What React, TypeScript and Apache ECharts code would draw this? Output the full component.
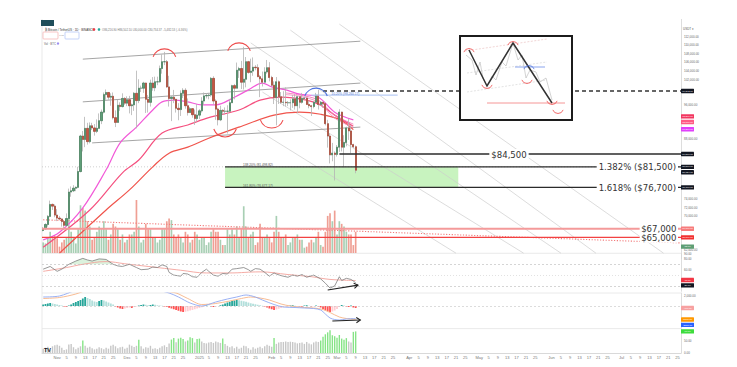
import React, { useEffect, useRef } from "react";
import * as echarts from "echarts";

// ---------------- data ----------------
const START_UTC = [2024, 9, 26]; // 26 Oct 2024
const AXIS_DAYS = 274;
const MONTHS = ["Jan", "Feb", "Mar", "Apr", "May", "Jun", "Jul", "Aug", "Sep", "Oct", "Nov", "Dec"];
const LABEL_DAYS = [1, 5, 9, 13, 17, 21, 25];

// BTC/USDT daily  [open, high, low, close]
const OHLC: number[][] = [
  [66600, 67400, 66400, 67000], [67000, 68300, 66800, 68000], [68000, 70200, 67500, 69900], [69900, 73600, 69700, 72700],
  [72700, 72900, 71400, 72300], [72300, 72700, 69700, 70200], [70200, 71600, 68800, 69500], [69500, 70000, 69000, 69300],
  [69300, 69400, 67500, 68700], [68700, 68900, 66800, 67800], [67800, 70600, 67500, 69400], [69400, 76400, 69300, 75600],
  [75600, 76900, 74500, 75900], [75900, 77200, 75600, 76500], [76500, 76900, 75800, 76700], [76700, 81500, 76500, 80400],
  [80400, 89000, 80200, 88700], [88700, 89900, 85100, 87900], [87900, 93200, 86100, 90500], [90500, 91800, 86700, 87400],
  [87400, 91900, 87000, 91100], [91100, 91800, 90100, 90600], [90600, 91500, 88800, 89800], [89800, 92600, 89400, 90500],
  [90500, 94000, 90400, 92300], [92300, 94900, 91500, 94300], [94300, 98900, 94000, 98400], [98400, 99600, 97200, 98900],
  [98900, 98900, 97200, 97800], [97800, 98700, 95800, 98000], [98000, 98900, 92600, 93000], [93000, 94700, 90800, 91900],
  [91900, 97200, 91800, 95900], [95900, 96600, 94600, 95600], [95600, 98700, 95400, 97500], [97500, 97800, 96000, 96400],
  [96400, 98000, 95700, 97200], [97200, 98100, 94000, 95800], [95800, 96300, 93600, 96000], [96000, 99000, 94600, 98700],
  [98700, 104000, 90500, 97000], [97000, 102000, 96400, 99900], [99900, 100500, 99000, 99900], [99900, 101400, 98800, 101100],
  [101100, 101200, 94100, 97300], [97300, 98300, 94200, 96600], [96600, 101900, 95600, 101100], [101100, 102500, 99300, 100000],
  [100000, 102600, 99200, 101400], [101400, 102600, 100600, 101400], [101400, 105200, 101200, 104500], [104500, 107800, 103300, 106100],
  [106100, 108400, 105300, 106100], [106100, 106500, 100000, 100200], [100200, 102800, 95600, 97500], [97500, 98000, 92200, 97800],
  [97800, 99500, 96400, 97300], [97300, 97400, 94200, 95200], [95200, 96400, 92400, 94900], [94900, 99400, 93400, 98700],
  [98700, 99900, 97600, 99400], [99400, 99900, 95100, 95800], [95800, 97500, 93500, 94200], [94200, 95500, 94100, 95100],
  [95100, 95200, 93000, 93700], [93700, 94900, 91300, 92800], [92800, 96200, 92000, 93600], [93600, 95000, 92700, 94600],
  [94600, 97800, 94200, 96900], [96900, 98900, 96000, 98100], [98100, 98700, 97500, 98200], [98200, 98800, 97300, 98300],
  [98300, 102500, 97900, 102200], [102200, 102700, 96100, 96900], [96900, 97300, 92500, 95000], [95000, 95300, 91200, 92500],
  [92500, 95800, 92200, 94700], [94700, 95000, 93800, 94500], [94500, 95400, 93700, 94500], [94500, 95900, 89300, 94500],
  [94500, 97400, 94300, 96500], [96500, 100700, 96500, 100500], [100500, 100900, 97300, 99900], [99900, 105900, 99900, 104100],
  [104100, 104900, 102300, 104500], [104500, 106300, 99700, 101300], [101300, 109600, 99600, 102000], [102000, 107200, 100100, 106100],
  [106100, 106300, 103300, 103600], [103600, 106800, 101300, 103900], [103900, 107100, 102800, 104800], [104800, 105300, 104100, 104700],
  [104700, 105500, 102500, 102600], [102600, 103000, 97800, 102100], [102100, 103800, 100300, 101300], [101300, 104800, 101300, 103700],
  [103700, 106500, 103300, 104700], [104700, 106000, 101500, 102400], [102400, 102800, 100300, 100600], [100600, 101500, 96200, 97700],
  [97700, 102500, 91200, 101400], [101400, 101700, 96200, 97900], [97900, 99000, 96200, 96600], [96600, 99200, 95700, 96600],
  [96600, 100100, 95600, 96500], [96500, 96900, 95700, 96500], [96500, 97300, 94700, 96500], [96500, 98300, 95300, 97400],
  [97400, 98500, 94900, 95800], [95800, 98100, 94100, 97900], [97900, 98000, 95200, 96600], [96600, 98800, 96300, 97500],
  [97500, 97900, 97100, 97600], [97600, 97700, 96000, 96100], [96100, 97000, 95200, 95800], [95800, 96000, 93400, 95600],
  [95600, 96900, 95200, 96600], [96600, 98800, 96500, 98300], [98300, 99500, 94900, 96100], [96100, 96900, 95800, 96600],
  [96600, 96700, 95300, 96300], [96300, 96500, 91200, 91600], [91600, 92500, 86000, 88700], [88700, 89300, 82300, 84300],
  [84300, 87100, 82800, 84700], [84700, 85100, 78300, 84400], [84400, 86600, 83900, 86100], [86100, 95000, 85000, 94300],
  [94300, 94400, 85100, 86100], [86100, 88900, 81400, 87200], [87200, 90900, 86300, 90600], [90600, 92800, 87800, 89900],
  [89900, 91300, 84700, 86700], [86700, 86900, 85900, 86200], [86200, 86500, 80000, 80700],
];

const VOLUME = [
  20, 18, 30, 40, 28, 32, 28, 12, 20, 25,
  30, 70, 40, 30, 18, 45, 90, 85, 80, 60, 50, 25,
  30, 40, 50, 45, 60, 45, 25, 35, 55, 50, 45, 25, 35, 20,
  25, 35, 35, 40, 100, 50, 20, 25, 55, 45, 45, 30, 30, 20,
  25, 45, 45, 60, 65, 62, 35, 30, 35, 30, 20, 40, 35, 20, 25, 40, 35,
  25, 30, 30, 15, 20, 40, 45, 40, 40, 25, 15, 15, 45, 35, 45,
  35, 50, 30, 45, 88, 50, 30, 35, 40, 15, 20, 55, 30, 30, 35, 30,
  20, 40, 70, 40, 30, 30, 35, 15, 20, 30, 30, 35, 25, 25,
  10, 12, 20, 25, 20, 30, 40, 15, 12, 40, 70, 75, 60, 80,
  35, 60, 55, 50, 40, 35, 35, 15, 40,
];

// moving averages: [day index, price]
const MA_FAST = [[0, 64400], [7, 66200], [17, 71900], [27, 80800], [33, 87100], [40, 90800], [47, 94800], [51, 96700], [56, 97100], [62, 96700], [68, 96000], [74, 96000], [82, 97800], [88, 99500], [94, 101100], [98, 100200], [104, 99500], [110, 98500], [118, 97800], [125, 94300], [133, 92500]];
const MA_MID = [[0, 62700], [20, 71400], [34, 80100], [41, 83100], [51, 89400], [62, 91300], [71, 93000], [84, 94800], [93, 97100], [102, 97800], [113, 97100], [119, 95900], [125, 93600], [133, 91000]];
const MA_SLOW = [[7, 61300], [27, 71400], [37, 76100], [47, 81500], [54, 84700], [62, 86100], [71, 88200], [84, 90800], [99, 93600], [110, 94300], [119, 93800], [127, 92600], [133, 90200]];
const MA_RIB1 = [[104, 98800], [110, 98300], [118, 97100], [125, 93600], [133, 91500]];
const MA_RIB2 = [[104, 98400], [110, 98000], [118, 96600], [125, 92900], [133, 90700]];

const RSI = [[0, 61], [3, 66], [6, 57], [8, 61], [11, 70], [14, 76], [17, 81], [19, 78], [21, 76], [24, 80], [27, 79], [30, 70], [32, 67], [34, 66], [37, 70], [40, 64], [42, 60], [45, 61], [47, 65], [49, 64], [51, 69], [53, 66], [54, 55], [56, 50], [59, 48], [60, 53], [62, 52], [64, 47], [66, 46], [68, 55], [70, 61], [71, 57], [73, 50], [75, 48], [77, 53], [79, 52], [81, 61], [83, 62], [86, 64], [88, 60], [89, 57], [91, 62], [93, 61], [95, 55], [97, 48], [99, 54], [100, 52], [102, 49], [105, 46], [107, 50], [109, 48], [111, 51], [113, 46], [116, 50], [119, 43], [121, 35], [123, 26], [125, 30], [127, 47], [128, 40], [130, 44], [132, 42], [134, 36]];
const RSI_MA = [[0, 57], [10, 64], [17, 70], [27, 75], [35, 71], [45, 66], [59, 59], [70, 54], [80, 54], [93, 56], [105, 51], [115, 47], [123, 42], [134, 40]];

const MACD_HIST = [
  300, 400, 500, 600, 500, 400, 300, 200, 100,
  -100, -200, 100, 300,
  600, 800, 1000, 1200,
  1500, 1800, 1600,
  1400, 1100, 900, 800,
  1000, 1200, 1100,
  900, 700, 500, 300,
  -100, -300, -500, -600, -500, -400, -300,
  -400, -200, -100, 100, 200,
  300, 250, 150, 200, 300, 250, 150, 100, 50, -100,
  -200, -350, -500, -650, -800, -950, -1100, -1200, -1150, -1050, -900, -800, -650, -500,
  -400, -250, -100, 100, 50, -100,
  -200, -150, 0, 150,
  300, 500, 700, 850, 1000, 1100, 1200, 1150, 1050, 950, 850, 700,
  550, 450, 350, 250, 150, 50, -100,
  -300, -500, -650, -800, -700, -550, -400, -250,
  -150, -100, 100, 150, 50, -50, -100, -150, 100, 150, 50, -100, -50, 100, -100,
  -300, -600, -850, -1050, -1200, -1100,
  -900, -600, -200, 200, 100, -100, -200, 100, -300, -400,
];
const MACD_LINE = [[0, 1800], [7, 2000], [14, 3200], [22, 4600], [35, 4200], [45, 3600], [54, 2600], [58, 1800], [63, 600], [68, 0], [74, 800], [79, 1400], [83, 1800], [87, 2200], [91, 1800], [94, 1200], [99, 300], [103, -200], [108, -300], [112, -400], [116, -500], [119, -800], [121, -1600], [123, -2400], [125, -2700], [127, -2800], [130, -2600], [134, -2500]];
const MACD_SIGNAL = [[0, 1500], [7, 1700], [14, 2400], [22, 3700], [35, 4300], [45, 3800], [52, 3000], [57, 2600], [62, 1500], [68, 300], [74, 500], [80, 1000], [85, 1500], [89, 1800], [93, 1600], [97, 1200], [102, 400], [106, 0], [112, -300], [116, -400], [120, -700], [123, -1300], [127, -2200], [130, -2500], [134, -2700]];

const OSC = [
  18, 22, 26, 14, 28, 32, 34, 30, 22, 12, 15, 35, 38, 24, 16, 22,
  28, 52, 30, 22, 26, 20, 15, 18, 24, 20, 16, 22, 18, 30, 34,
  28, 20, 24, 26, 18, 22, 35, 30, 25, 30, 55, 28, 18, 24, 22,
  30, 18, 20, 16, 22, 28, 32, 25, 40, 56, 62, 45, 60, 64, 58,
  48, 52, 66, 62, 44, 58, 60, 48, 42, 40, 44, 46, 42, 48, 45,
  42, 60, 38, 30, 24, 28, 20, 26, 18, 22, 30, 28, 20, 14, 24,
  18, 22, 26, 20, 28, 34, 30, 26, 62, 38, 44, 46, 46, 48, 46,
  47, 46, 44, 40, 42, 44, 38, 46, 40, 36, 44, 48, 46, 52, 68,
  78, 86, 95, 74, 70, 64, 75, 60, 55, 62, 48, 44, 88, 90,
];

// drawn annotations, in data coordinates [day index, price]
const CHANNEL_LINES = [
  [[17, 106700], [136, 110900]],
  [[17, 96700], [136, 101100]],
  [[21, 87100], [136, 90800]],
];
const DIAGONAL_LINES = [
  [[92, 90100], [177, 61300]],
  [[94, 99000], [206, 61300]],
  [[89, 110500], [222, 61300]],
  [[106, 113500], [237, 61300]],
  [[127, 114900], [266, 61300]],
];
const RED_DOTTED = [[0, 69100], [273, 63700]];
const FIB_START = 78;
const FIB_BOX_END = 178;
const FIB_1382 = 81500;
const FIB_1618 = 76700;
const LEVEL_84500 = 84500;
const LEVEL_84500_START = 127;
const DASHED_LEVEL = 99242;
const DASHED_START = 120;
const LEVEL_67000 = 67000;
const LEVEL_65000 = 65000;
const BLUE_FIB = { from: 115, to: 152, price: 98260, text: "10.20% (98,260.17)" };
const TOP_ARCS = [[52, 106300], [84, 107700]];
const BOTTOM_ARCS = [[78, 91300], [98, 93400]];
const BLUE_ARC = [117, 97100];
const RSI_ARROW = [[122, 22.5], [135, 31.5]];
const MACD_ARROW = [[124, -3000], [136, -2800]];

// right-axis value tags: [pane, value, colour]
const TAGS: [number, number, string][] = [
  [0, 99242, "#131722"], [0, 93300, "#f23660"], [0, 92000, "#ff5a84"], [0, 90300, "#e040fb"],
  [0, 84500, "#131722"], [0, 81500, "#131722"], [0, 80734, "#131722"], [0, 76700, "#131722"],
  [0, 67000, "#f77c7c"], [0, 65000, "#f23030"],
  [1, 12, "#5e9e74"],
  [2, 41, "#f23645"], [2, 36, "#131722"],
  [3, -400, "#f7a1a1"], [3, -2700, "#ff9800"], [3, -2500, "#2962ff"],
  [4, 90, "#3ddc3d"],
];

// ---------------- layout / styles ----------------
const GL = 42;
const GW = 639;
const GR = GL + GW;
const GRIDS = [
  { left: GL, width: GW, top: 19.4, height: 239.3 },
  { left: GL, width: GW, top: 200, height: 53 },
  { left: GL, width: GW, top: 253.5, height: 37.8 },
  { left: GL, width: GW, top: 293, height: 35 },
  { left: GL, width: GW, top: 329, height: 24 },
];
const PANE_BOTTOM = 353;
const NARROW = "'Liberation Sans Narrow', 'DejaVu Sans Condensed', 'Liberation Sans', Arial, sans-serif";
const SANS = "'Liberation Sans', Arial, sans-serif";

const DATES: string[] = [];
for (let i = 0; i < AXIS_DAYS; i++) {
  const d = new Date(Date.UTC(START_UTC[0], START_UTC[1], START_UTC[2] + i));
  DATES.push(d.toISOString().slice(0, 10));
}

const fmt2 = (v: number) => v.toLocaleString("en-US", { minimumFractionDigits: 2, maximumFractionDigits: 2 });
const PRICE_PER_PX = 56000 / 239.3;
// price-axis tick labels that would sit under a value tag are left blank (the tag covers them)
const mainTagValues = TAGS.filter((t) => t[0] === 0).map((t) => t[1]);
const underTag = (v: number) => mainTagValues.some((t) => Math.abs(t - v) < 7.2 * PRICE_PER_PX);

function buildOption() {
  const xAxis = GRIDS.map((_, i) => ({
    type: "category",
    gridIndex: i,
    data: DATES,
    boundaryGap: true,
    axisLine: { show: i === 4, lineStyle: { color: "#cfcfcf", width: 0.8 } },
    axisTick: { show: false },
    splitLine: { show: false },
    axisLabel:
      i === 4
        ? {
            show: true,
            fontSize: 4,
            color: "#777",
            margin: 2,
            fontFamily: SANS,
            interval: (_idx: number, v: string) => LABEL_DAYS.includes(+v.slice(8, 10)),
            formatter: (v: string) => {
              const day = +v.slice(8, 10);
              const m = +v.slice(5, 7) - 1;
              if (day === 1) return m === 0 ? v.slice(0, 4) : MONTHS[m];
              return String(day);
            },
          }
        : { show: false },
  }));
  const lbl = { fontSize: 3, color: "#666", margin: 3, fontFamily: SANS };
  const axLine = { show: true, lineStyle: { color: "#d4d4d4", width: 0.8 } };
  const yAxis = [
    {
      type: "value", gridIndex: 0, position: "right", min: 60000, max: 116000, interval: 2000,
      axisLine: axLine, axisTick: { show: false }, splitLine: { show: false },
      axisLabel: { ...lbl, formatter: (v: number) => (v < 62000 || v > 112000 || underTag(v) ? "" : fmt2(v)) },
    },
    { type: "value", gridIndex: 1, min: 0, max: 100, show: false },
    {
      type: "value", gridIndex: 2, position: "right", min: 20, max: 90, interval: 20,
      axisLine: axLine, axisTick: { show: false }, splitLine: { show: false },
      axisLabel: { ...lbl, formatter: (v: number) => (v === 20 || v === 40 ? "" : v.toFixed(2)) },
    },
    {
      type: "value", gridIndex: 3, position: "right", min: -4400, max: 2600,
      axisLine: axLine, axisTick: { show: false }, splitLine: { show: false },
      axisLabel: { ...lbl, formatter: (v: number) => (v !== 0 && v % 2000 === 0 && v > -2000 ? fmt2(v) : "") },
    },
    {
      type: "value", gridIndex: 4, position: "right", min: 0, max: 100, interval: 50,
      axisLine: axLine, axisTick: { show: false }, splitLine: { show: false },
      axisLabel: { ...lbl, formatter: (v: number) => (v === 100 ? "" : v.toFixed(2)) },
    },
  ];

  const maLine = (data: number[][], color: string, width = 1.2) => ({
    type: "line", xAxisIndex: 0, yAxisIndex: 0, data, smooth: 0.35, symbol: "none",
    lineStyle: { color, width }, silent: true, z: 3,
  });

  const histColors = MACD_HIST.map((v, i) => {
    const p = i > 0 ? MACD_HIST[i - 1] : 0;
    if (v >= 0) return v >= p ? "#26a69a" : "#b2dfdb";
    return v <= p ? "#ff5252" : "#ffcdd2";
  });

  const series: any[] = [
    {
      type: "candlestick", xAxisIndex: 0, yAxisIndex: 0, barWidth: "74%", z: 4,
      data: OHLC.map(([o, h, l, c]) => [o, c, l, h]),
      itemStyle: { color: "#b4b4b4", color0: "#b4b4b4", borderColor: "#b4b4b4", borderColor0: "#b4b4b4", borderWidth: 0.8 },
    },
    {
      type: "candlestick", xAxisIndex: 0, yAxisIndex: 0, barWidth: "74%", z: 5,
      data: OHLC.map(([o, , , c]) => [o, c, Math.min(o, c), Math.max(o, c)]),
      itemStyle: { color: "#5f9f78", color0: "#c85640", borderColor: "#3a7a54", borderColor0: "#a33c2a", borderWidth: 0.6 },
    },
    maLine(MA_SLOW, "#f0544c"),
    maLine(MA_MID, "#f5507f"),
    maLine(MA_RIB2, "#f28fc0", 0.9),
    maLine(MA_RIB1, "#f47ab6", 0.9),
    maLine(MA_FAST, "#f25ad8"),
    {
      type: "bar", xAxisIndex: 1, yAxisIndex: 1, barWidth: "72%", silent: true, z: 1,
      data: VOLUME.map((v, i) => ({ value: v, itemStyle: { color: OHLC[i][3] >= OHLC[i][0] ? "#a8cfb4" : "#ef9f94" } })),
    },
    {
      type: "line", xAxisIndex: 2, yAxisIndex: 2, symbol: "none", silent: true,
      data: RSI.map(([i, v]) => [i, Math.max(v, 70)]),
      lineStyle: { opacity: 0 }, areaStyle: { origin: 70, color: "rgba(70,190,80,0.28)" },
    },
    {
      type: "line", xAxisIndex: 2, yAxisIndex: 2, symbol: "none", silent: true, data: RSI_MA,
      smooth: 0.4, lineStyle: { color: "#f3a19b", width: 0.9 },
    },
    {
      type: "line", xAxisIndex: 2, yAxisIndex: 2, symbol: "none", silent: true, data: RSI,
      lineStyle: { color: "#7d7d7d", width: 0.8 },
      markLine: {
        silent: true, symbol: "none", label: { show: false },
        data: [
          { yAxis: 70, lineStyle: { type: [2, 2], color: "#b9b9b9", width: 0.6 } },
          { yAxis: 50, lineStyle: { type: [1, 2], color: "#cfcfcf", width: 0.6 } },
          { yAxis: 30, lineStyle: { type: [2, 2], color: "#b9b9b9", width: 0.6 } },
        ],
      },
    },
    {
      type: "bar", xAxisIndex: 3, yAxisIndex: 3, barWidth: "78%", silent: true,
      data: MACD_HIST.map((v, i) => ({ value: v, itemStyle: { color: histColors[i] } })),
      markLine: {
        silent: true, symbol: "none", label: { show: false },
        data: [{ yAxis: 0, lineStyle: { type: [2, 2], color: "#c4c4c4", width: 0.6 } }],
      },
    },
    {
      type: "line", xAxisIndex: 3, yAxisIndex: 3, symbol: "none", silent: true, data: MACD_SIGNAL,
      smooth: 0.3, lineStyle: { color: "#f7b487", width: 0.9 },
    },
    {
      type: "line", xAxisIndex: 3, yAxisIndex: 3, symbol: "none", silent: true, data: MACD_LINE,
      smooth: 0.3, lineStyle: { color: "#8ea8f3", width: 0.9 },
    },
    {
      type: "bar", xAxisIndex: 4, yAxisIndex: 4, barWidth: "60%", silent: true,
      data: OSC.map((v) => ({ value: v, itemStyle: { color: v >= 50 ? "#86e486" : "#c7c7c7" } })),
    },
  ];

  return {
    animation: false,
    backgroundColor: "#ffffff",
    grid: GRIDS,
    xAxis,
    yAxis,
    series,
  };
}

function buildGraphics(chart: any) {
  const P = (g: number, pt: number[]) => chart.convertToPixel({ gridIndex: g }, pt) as number[];
  const els: any[] = [];
  const line = (x1: number, y1: number, x2: number, y2: number, stroke: string, lineWidth = 1, lineDash?: number[], z = 1) =>
    els.push({ type: "line", silent: true, z, shape: { x1, y1, x2, y2 }, style: { stroke, lineWidth, lineDash } });
  const text = (x: number, y: number, t: string, o: any = {}, z = 20) =>
    els.push({ type: "text", silent: true, z, style: { x, y, text: t, fill: "#333", fontSize: 9.5, fontFamily: NARROW, ...o } });
  const arc = (cx: number, cy: number, r: number, up: boolean, stroke: string, lw = 1.1, z = 6) =>
    els.push({
      type: "arc", silent: true, z,
      shape: { cx, cy, r, startAngle: up ? (200 * Math.PI) / 180 : (20 * Math.PI) / 180, endAngle: up ? (340 * Math.PI) / 180 : (160 * Math.PI) / 180, clockwise: true },
      style: { stroke, lineWidth: lw, fill: null },
    });
  const arrow = (a: number[], b: number[]) => {
    line(a[0], a[1], b[0], b[1], "#222", 1.1, undefined, 8);
    const dx = b[0] - a[0], dy = b[1] - a[1];
    const len = Math.hypot(dx, dy);
    const ux = dx / len, uy = dy / len;
    const px = -uy, py = ux;
    els.push({
      type: "polyline", silent: true, z: 8,
      shape: { points: [[b[0] - 4 * ux + 2.6 * px, b[1] - 4 * uy + 2.6 * py], b, [b[0] - 4 * ux - 2.6 * px, b[1] - 4 * uy - 2.6 * py]] },
      style: { stroke: "#222", lineWidth: 1.1, fill: null },
    });
  };

  // pane frame
  line(GL, 19, GL, PANE_BOTTOM, "#e3e3e3", 0.8);
  [253.3, 293, 328.6].forEach((y) => line(GL, y, GR, y, "#e4e4e4", 0.8));

  // last-price dotted guide
  const yLast = P(0, [0, FIB_1382])[1];
  line(GL, yLast, GR, yLast, "#bdbdbd", 0.7, [1, 2]);

  // diagonal fan lines & channel
  DIAGONAL_LINES.forEach(([a, b]) => {
    const p1 = P(0, a), p2 = P(0, b);
    line(p1[0], p1[1], p2[0], p2[1], "#cdcdcd", 0.7);
  });
  CHANNEL_LINES.forEach(([a, b]) => {
    const p1 = P(0, a), p2 = P(0, b);
    line(p1[0], p1[1], p2[0], p2[1], "#8e8e8e", 0.8, undefined, 3);
  });
  {
    const p1 = P(0, RED_DOTTED[0]), p2 = P(0, RED_DOTTED[1]);
    line(p1[0], p1[1], p2[0], p2[1], "#f27b7b", 1.1, [1.2, 1.6], 2);
  }

  // fib zone
  const fA = P(0, [FIB_START, FIB_1382]);
  const fB = P(0, [FIB_BOX_END, FIB_1618]);
  els.push({ type: "rect", silent: true, z: 0, shape: { x: fA[0], y: fA[1], width: fB[0] - fA[0], height: fB[1] - fA[1] }, style: { fill: "#c8f3bf" } });
  line(fA[0], fA[1], GR, fA[1], "#2b2b2b", 1.3, undefined, 6);
  line(fA[0], fB[1], GR, fB[1], "#2b2b2b", 1.3, undefined, 6);
  text(fA[0] + 18, fA[1] - 0.5, "138.20% (81,498.82)", { fontSize: 3.2, fontFamily: SANS, fill: "#555", verticalAlign: "bottom" });
  text(fA[0] + 18, fB[1] - 0.5, "161.80% (76,677.17)", { fontSize: 3.2, fontFamily: SANS, fill: "#555", verticalAlign: "bottom" });
  text(GR - 3, fA[1], "1.382% ($81,500)", { align: "right", verticalAlign: "middle", backgroundColor: "#fff", padding: [0, 2] });
  text(GR - 3, fB[1], "1.618% ($76,700)", { align: "right", verticalAlign: "middle", backgroundColor: "#fff", padding: [0, 2] });

  // $84,500
  const l84 = P(0, [LEVEL_84500_START, LEVEL_84500]);
  line(l84[0], l84[1], GR, l84[1], "#2b2b2b", 1.3, undefined, 6);
  text(509, l84[1], "$84,500", { align: "center", verticalAlign: "middle", backgroundColor: "#fff", padding: [0, 2] });

  // dashed level
  const ld = P(0, [DASHED_START, DASHED_LEVEL]);
  line(ld[0], ld[1], GR, ld[1], "#333", 1.4, [4, 3], 6);

  // blue fib
  const b1 = P(0, [BLUE_FIB.from, BLUE_FIB.price]);
  const b2 = P(0, [BLUE_FIB.to, BLUE_FIB.price]);
  line(b1[0], b1[1], b2[0], b2[1], "#b9cdf6", 1.2, undefined, 6);
  text(b1[0] + 20, b1[1] - 0.3, BLUE_FIB.text, { fontSize: 3.2, fontFamily: SANS, fill: "#5b7fd6", verticalAlign: "bottom" });

  // 67k / 65k
  const y67 = P(0, [0, LEVEL_67000])[1];
  const y65 = P(0, [0, LEVEL_65000])[1];
  line(GL, y67, GR, y67, "#f49a9a", 2, undefined, 6);
  line(GL, y65, GR, y65, "#f24242", 1.4, undefined, 6);
  text(GR - 3, y67 - 0.5, "$67,000", { align: "right", verticalAlign: "middle", backgroundColor: "#fff", padding: [0, 1.5] });
  text(GR - 3, y65 + 0.5, "$65,000", { align: "right", verticalAlign: "middle", backgroundColor: "#fff", padding: [0, 1.5] });

  // arcs
  TOP_ARCS.forEach((pt) => { const c = P(0, pt); arc(c[0], c[1], 12, true, "#ee4a4a"); });
  BOTTOM_ARCS.forEach((pt) => { const c = P(0, pt); arc(c[0], c[1], 12, false, "#ee4a4a"); });
  { const c = P(0, BLUE_ARC); arc(c[0], c[1], 12, true, "#4e73e0"); }

  // arrows
  arrow(P(2, RSI_ARROW[0]), P(2, RSI_ARROW[1]));
  arrow(P(3, MACD_ARROW[0]), P(3, MACD_ARROW[1]));

  // right tags
  const TAG_H = 4.4;
  const TAG_GAP = 5.4;
  let prev = -100;
  let prevPane = -1;
  TAGS.forEach(([pane, v, color]) => {
    let y = P(pane, [0, v])[1];
    if (pane === prevPane && y - prev < TAG_GAP) y = prev + TAG_GAP;
    prev = y; prevPane = pane;
    els.push({ type: "rect", silent: true, z: 30, shape: { x: GR, y: y - TAG_H / 2, width: 13, height: TAG_H, r: 0.4 }, style: { fill: color } });
    els.push({ type: "text", silent: true, z: 31, style: { x: GR + 6.5, y, text: pane === 0 ? fmt2(v) : v.toFixed(2), fill: "#fff", fontSize: 2.4, fontFamily: SANS, align: "center", verticalAlign: "middle" } });
  });

  // header
  els.push({ type: "rect", silent: true, z: 30, shape: { x: 41, y: 20, width: 13, height: 6 }, style: { fill: "#1f4e5b" } });
  text(45, 29.5, "₿ Bitcoin / TetherUS · 1D · BINANCE", { fontSize: 3, fontFamily: SANS, fill: "#333", verticalAlign: "middle" });
  els.push({ type: "circle", silent: true, z: 30, shape: { cx: 94, cy: 29.5, r: 1.3 }, style: { fill: "#f23645" } });
  els.push({ type: "circle", silent: true, z: 30, shape: { cx: 99, cy: 29.5, r: 1.3 }, style: { fill: "#26a69a" } });
  text(102, 29.5, "O86,216.90 H86,502.10 L80,000.00 C80,734.37 −5,482.53 (−6.36%)", { fontSize: 2.8, fontFamily: SANS, fill: "#777", verticalAlign: "middle" });
  els.push({ type: "rect", silent: true, z: 30, shape: { x: 43, y: 32, width: 15, height: 7, r: 0.8 }, style: { fill: "#fff", stroke: "#f4a0a0", lineWidth: 0.6 } });
  text(50.5, 35.5, "80,734.36\nSELL", { fontSize: 2.4, fontFamily: SANS, fill: "#f23645", align: "center", verticalAlign: "middle", lineHeight: 2.8 });
  text(61.5, 35.5, "0.01", { fontSize: 2.4, fontFamily: SANS, fill: "#888", align: "center", verticalAlign: "middle" });
  els.push({ type: "rect", silent: true, z: 30, shape: { x: 65, y: 32, width: 14, height: 7, r: 0.8 }, style: { fill: "#fff", stroke: "#9db7f5", lineWidth: 0.6 } });
  text(72, 35.5, "80,734.37\nBUY", { fontSize: 2.4, fontFamily: SANS, fill: "#2962ff", align: "center", verticalAlign: "middle", lineHeight: 2.8 });
  text(44, 43.5, "Vol · BTC", { fontSize: 2.8, fontFamily: SANS, fill: "#666", verticalAlign: "middle" });
  els.push({ type: "circle", silent: true, z: 30, shape: { cx: 58, cy: 43.5, r: 1.2 }, style: { fill: "#9c8cf0" } });
  text(GR + 2, 29, "USDT ▾", { fontSize: 3, fontFamily: SANS, fill: "#555", verticalAlign: "middle" });
  text(44, 349.5, "TV", { fontSize: 5.5, fontWeight: "bold", fontFamily: SANS, fill: "#131722", verticalAlign: "middle" });

  // inset sketch
  els.push({ type: "rect", silent: true, z: 40, shape: { x: 460, y: 36, width: 112, height: 84 }, style: { fill: "#fff", stroke: "#1c1c1c", lineWidth: 2 } });
  const il = (x1: number, y1: number, x2: number, y2: number, s: string, w: number, d?: number[]) =>
    els.push({ type: "line", silent: true, z: 41, shape: { x1, y1, x2, y2 }, style: { stroke: s, lineWidth: w, lineDash: d } });
  il(465, 51, 547, 39, "#e7b8b8", 0.6, [2, 1.5]);
  il(467, 73, 547, 62, "#d0d0d0", 0.6, [2, 1.5]);
  il(467, 92, 547, 80, "#d0d0d0", 0.6, [2, 1.5]);
  els.push({
    type: "polyline", silent: true, z: 41,
    shape: { points: [[466, 55], [472, 60], [476, 75], [480, 62], [483, 78], [487, 86], [492, 76], [496, 80], [502, 62], [506, 66], [513, 43], [518, 60], [522, 55], [526, 78], [530, 70], [536, 72], [540, 82], [546, 78], [552, 100]] },
    style: { stroke: "#b5b5b5", lineWidth: 0.6, fill: null },
  });
  els.push({
    type: "polyline", silent: true, z: 42,
    shape: { points: [[469, 50], [487, 86], [513, 43], [552, 103]] },
    style: { stroke: "#333", lineWidth: 1.5, fill: null },
  });
  il(487, 103, 565, 103, "#f27b7b", 0.8);
  il(515, 67, 545, 67, "#6d8de8", 0.8);
  const ia = (cx: number, cy: number, up: boolean, c: string) =>
    els.push({
      type: "arc", silent: true, z: 43,
      shape: { cx, cy, r: 5.5, startAngle: up ? (200 * Math.PI) / 180 : (20 * Math.PI) / 180, endAngle: up ? (340 * Math.PI) / 180 : (160 * Math.PI) / 180, clockwise: true },
      style: { stroke: c, lineWidth: 0.8, fill: null },
    });
  ia(469, 54, true, "#ee4a4a");
  ia(487, 83, false, "#ee4a4a");
  ia(513, 47, true, "#ee4a4a");
  ia(527, 78, false, "#ee4a4a");
  ia(552, 99, false, "#ee4a4a");
  ia(558, 108, false, "#ee4a4a");
  ia(529, 71, true, "#4e73e0");

  return els;
}

export default function App() {
  const ref = useRef<HTMLDivElement>(null);
  useEffect(() => {
    if (!ref.current) return;
    const chart = echarts.init(ref.current, undefined, { renderer: "svg" });
    chart.setOption(buildOption() as any);
    chart.setOption({ graphic: buildGraphics(chart) } as any);
    return () => chart.dispose();
  }, []);
  return <div ref={ref} style={{ width: 737, height: 367, position: "absolute", left: 0, top: 0 }} />;
}
